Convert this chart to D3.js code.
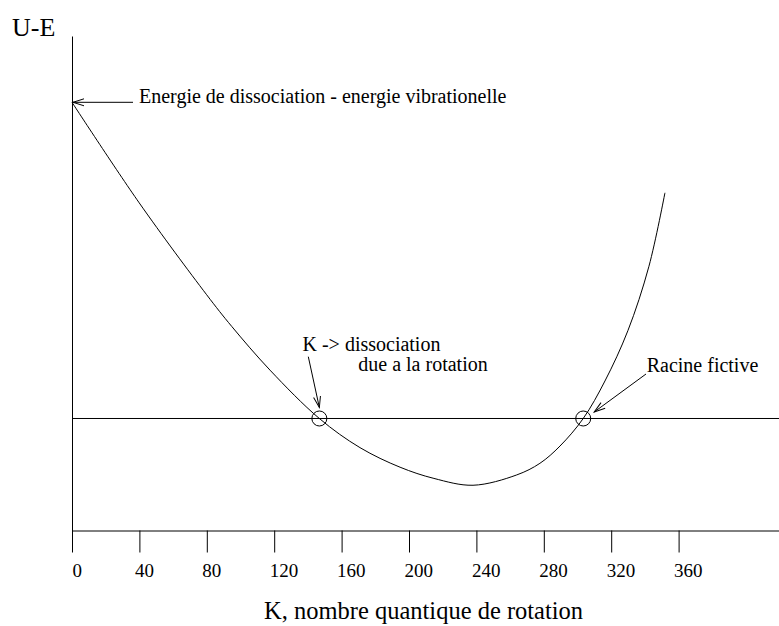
<!DOCTYPE html>
<html>
<head>
<meta charset="utf-8">
<script src="https://cdn.jsdelivr.net/npm/d3@7"></script>
<style>
  body { margin: 0; background: #fff; }
  text { font-family: "Liberation Serif", "Times New Roman", serif; fill: #000; }
</style>
</head>
<body>
<div id="chart"></div>
<script>
// Values (K = rotational quantum number, U-E arbitrary units)
const kValues = [0, 39.9, 79.9, 94.8, 117.5, 146.8, 170.9, 194.7, 214.8, 238.0, 263.9, 277.7, 289.6, 303.4, 316.3, 329.9, 342.4, 351.9];
const ueValues = [2.823, 1.925, 1.105, 0.822, 0.432, 0, -0.26, -0.435, -0.535, -0.596, -0.504, -0.40, -0.246, 0, 0.335, 0.784, 1.359, 2.015];
const xTicks = [0, 40, 80, 120, 160, 200, 240, 280, 320, 360];
const roots = [146.8, 303.4];

const width = 779, height = 626;

const svg = d3.select("#chart").append("svg")
  .attr("width", width)
  .attr("height", height);

// Scales
const x = d3.scaleLinear().domain([0, 420]).range([72, 779.7]);
const y = d3.scaleLinear().domain([-1, 3.415]).range([530.5, 36]);

// Open arrowhead marker
svg.append("defs").append("marker")
  .attr("id", "arrow")
  .attr("markerUnits", "userSpaceOnUse")
  .attr("viewBox", "-12 -6 14 12")
  .attr("markerWidth", 14)
  .attr("markerHeight", 12)
  .attr("refX", 0)
  .attr("refY", 0)
  .attr("orient", "auto")
  .append("path")
  .attr("d", "M-11,-3.5 L0,0 L-11,3.5")
  .attr("fill", "none")
  .attr("stroke", "#000")
  .attr("stroke-width", 1);

// X axis
const xAxis = svg.append("g")
  .attr("transform", `translate(0, ${y(-1)})`)
  .call(d3.axisBottom(x).tickValues(xTicks).tickSize(22).tickSizeOuter(0));
xAxis.select(".domain").attr("stroke", "#000");
xAxis.selectAll(".tick line").attr("stroke", "#000");
xAxis.selectAll(".tick text")
  .attr("y", 46)
  .attr("dy", null)
  .attr("x", d => d === 0 ? 0 : -5)
  .attr("text-anchor", "start")
  .style("font-family", "Liberation Serif")
  .style("font-size", "19px");

// Y axis (no ticks)
svg.append("g")
  .attr("transform", `translate(${x(0)}, 0)`)
  .call(d3.axisLeft(y).tickValues([]).tickSizeOuter(0))
  .select(".domain").attr("stroke", "#000");

// Zero line
svg.append("line")
  .attr("x1", x(0)).attr("x2", x(420))
  .attr("y1", y(0)).attr("y2", y(0))
  .attr("stroke", "#000");

// Curve
const pts = kValues.map((k, i) => [k, ueValues[i]]);
svg.append("path")
  .datum(pts)
  .attr("fill", "none")
  .attr("stroke", "#000")
  .attr("stroke-width", 1)
  .attr("d", d3.line().x(d => x(d[0])).y(d => y(d[1])).curve(d3.curveCatmullRom.alpha(0.5)));

// Root circles
svg.selectAll(".root")
  .data(roots)
  .enter().append("circle")
  .attr("class", "root")
  .attr("cx", d => x(d))
  .attr("cy", y(0))
  .attr("r", 7.5)
  .attr("fill", "none")
  .attr("stroke", "#000");

// Axis labels
svg.append("text")
  .attr("x", 12).attr("y", 36)
  .style("font-size", "26px")
  .text("U-E");

svg.append("text")
  .attr("x", 264).attr("y", 619)
  .style("font-size", "24.5px")
  .text("K, nombre quantique de rotation");

// Annotations
const y0 = y(ueValues[0]);
svg.append("line")
  .attr("x1", 133).attr("y1", y0)
  .attr("x2", x(0) + 1).attr("y2", y0)
  .attr("stroke", "#000")
  .attr("marker-end", "url(#arrow)");
svg.append("text")
  .attr("x", 139).attr("y", y0 + 0.5)
  .style("font-size", "20px")
  .text("Energie de dissociation - energie vibrationelle");

svg.append("text")
  .attr("x", 302.5).attr("y", 350.7)
  .style("font-size", "20px")
  .text("K -> dissociation");
svg.append("text")
  .attr("x", 358.3).attr("y", 371)
  .style("font-size", "20px")
  .text("due a la rotation");
svg.append("line")
  .attr("x1", 308.3).attr("y1", 356.7)
  .attr("x2", x(roots[0])).attr("y2", y(0) - 11)
  .attr("stroke", "#000")
  .attr("marker-end", "url(#arrow)");

svg.append("text")
  .attr("x", 646.7).attr("y", 372)
  .style("font-size", "20px")
  .text("Racine fictive");
svg.append("line")
  .attr("x1", 646).attr("y1", 374)
  .attr("x2", x(roots[1]) + 11).attr("y2", y(0) - 6.5)
  .attr("stroke", "#000")
  .attr("marker-end", "url(#arrow)");
</script>
</body>
</html>
